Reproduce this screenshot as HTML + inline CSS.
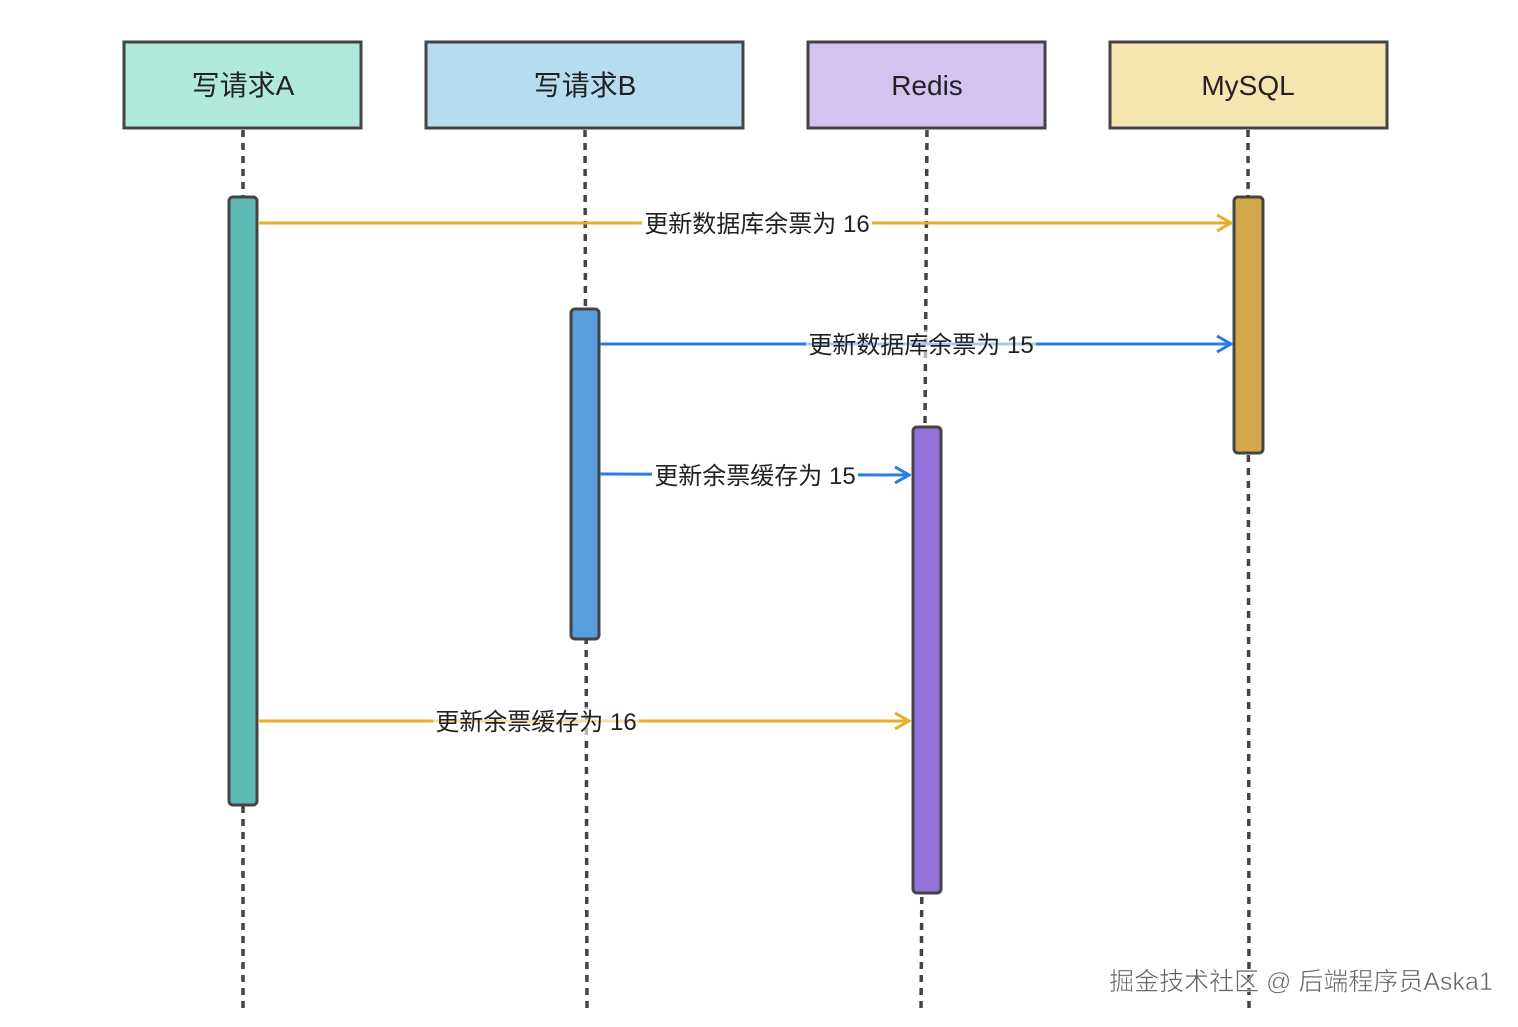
<!DOCTYPE html>
<html><head><meta charset="utf-8"><style>
html,body{margin:0;padding:0;background:#fff;}
svg text{font-family:"Liberation Sans","Noto Sans CJK SC",sans-serif;}
</style></head><body>
<svg width="1518" height="1022" viewBox="0 0 1518 1022" xmlns="http://www.w3.org/2000/svg">
<defs>
<marker id="ay" markerWidth="18" markerHeight="20" refX="16" refY="10" orient="auto" markerUnits="userSpaceOnUse"><path d="M2,2 L16,10 L2,18" fill="none" stroke="#e8ad2c" stroke-width="3"/></marker>
<marker id="ab" markerWidth="18" markerHeight="20" refX="16" refY="10" orient="auto" markerUnits="userSpaceOnUse"><path d="M2,2 L16,10 L2,18" fill="none" stroke="#2a7de1" stroke-width="3"/></marker>
</defs>
<g stroke="#444" stroke-width="3.5" stroke-dasharray="7,6">
<line x1="243" y1="130" x2="243" y2="1012"/>
<line x1="585" y1="130" x2="587" y2="1012"/>
<line x1="927" y1="130" x2="921" y2="1012"/>
<line x1="1248" y1="130" x2="1249" y2="1012"/>
</g>
<g stroke="#444" stroke-width="3">
<rect x="124" y="42" width="237" height="86" fill="#b1e8dc"/>
<rect x="426" y="42" width="317" height="86" fill="#b6dcf1"/>
<rect x="808" y="42" width="237" height="86" fill="#d4c2f0"/>
<rect x="1110" y="42" width="277" height="86" fill="#f5e5b1"/>
</g>
<g font-size="28" fill="#222" text-anchor="middle">
<text x="243" y="95">写请求A</text>
<text x="585" y="95">写请求B</text>
<text x="927" y="95">Redis</text>
<text x="1248" y="95">MySQL</text>
</g>
<g stroke="#444" stroke-width="3">
<rect x="229" y="197" width="28" height="608" rx="4" fill="#5db9b4"/>
<rect x="571" y="309" width="28" height="330" rx="4" fill="#589fdc"/>
<rect x="913" y="427" width="28" height="466" rx="4" fill="#9272da"/>
<rect x="1234" y="197" width="29" height="256" rx="4" fill="#d4a84a"/>
</g>
<g stroke-width="3" fill="none">
<line x1="258" y1="223" x2="1231" y2="223" stroke="#e8ad2c" marker-end="url(#ay)"/>
<line x1="600" y1="344" x2="1231" y2="344" stroke="#2a7de1" marker-end="url(#ab)"/>
<line x1="600" y1="474" x2="909" y2="475" stroke="#2a7de1" marker-end="url(#ab)"/>
<line x1="258" y1="721" x2="909" y2="721" stroke="#e8ad2c" marker-end="url(#ay)"/>
</g>
<g font-size="24" fill="#222" text-anchor="middle">
<rect x="642" y="209" width="230" height="30" fill="#fff"/>
<text x="757" y="232">更新数据库余票为 16</text>
<rect x="806" y="330" width="230" height="30" fill="#fff" opacity="0.6"/>
<text x="921" y="353">更新数据库余票为 15</text>
<rect x="652" y="461" width="206" height="30" fill="#fff"/>
<text x="755" y="484">更新余票缓存为 15</text>
<rect x="433" y="707" width="206" height="30" fill="#fff" opacity="0.6"/>
<text x="536" y="730">更新余票缓存为 16</text>
</g>
<text x="1301" y="990" font-size="25" fill="#666" stroke="#fff" stroke-width="0.5" text-anchor="middle">掘金技术社区 @ 后端程序员Aska1</text>
</svg>
</body></html>
